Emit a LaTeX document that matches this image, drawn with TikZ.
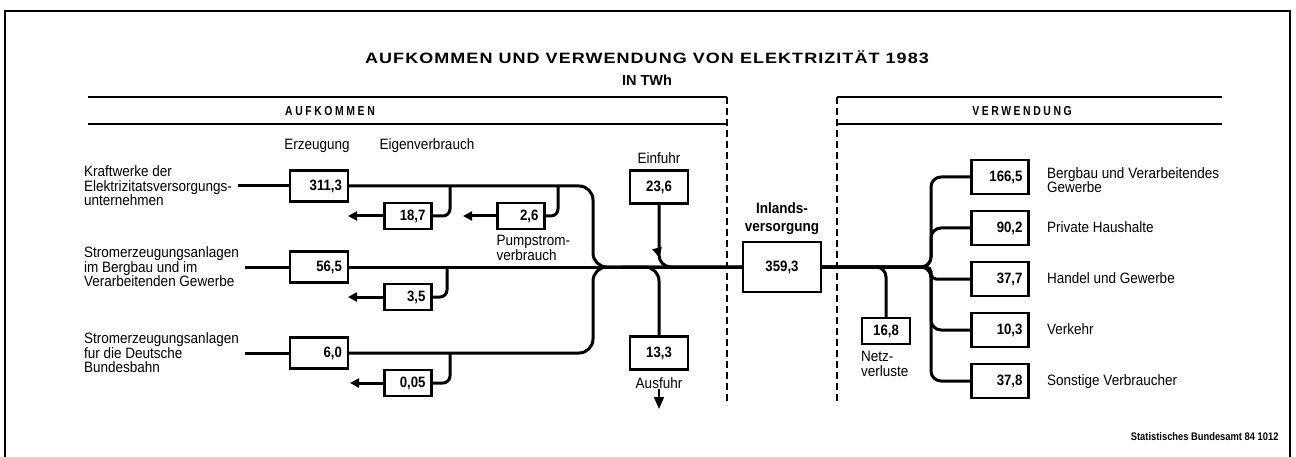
\documentclass[tikz,border=0pt]{standalone}
\usepackage{fontspec}
\setmainfont{Liberation Sans}
\newfontfamily\narrowfamily[FakeStretch=0.9]{Liberation Sans}
\newfontfamily\numfamily[FakeStretch=0.88]{Liberation Sans}
\newfontfamily\headfamily[LetterSpace=20,FakeStretch=0.8]{Liberation Sans}
\newfontfamily\titlefamily[LetterSpace=7,FakeStretch=1.2]{Liberation Sans}
\newfontfamily\quellfamily[FakeStretch=0.85]{Liberation Sans}
\usepackage{tikz}
\usetikzlibrary{arrows.meta,positioning,decorations.markings}
\newcommand{\lblfont}{\narrowfamily\fontsize{15}{14.5}\selectfont}
\newcommand{\numfont}{\numfamily\fontsize{15}{15}\selectfont\bfseries}
\newcommand{\titlefont}{\titlefamily\fontsize{15}{16}\selectfont\bfseries}
\newcommand{\unitfont}{\fontsize{14.5}{16}\selectfont\bfseries}
\newcommand{\headfont}{\headfamily\fontsize{13}{13}\selectfont\bfseries}
\newcommand{\inlfont}{\narrowfamily\fontsize{15}{18}\selectfont\bfseries}
\newcommand{\quellfont}{\quellfamily\fontsize{11}{12}\selectfont\bfseries}
\tikzset{
  strom/.style={line width=3pt},
  pfeil/.style={strom,-{Triangle[length=9pt,width=9pt]}},
  valbox/.style={rectangle,draw,line width=2.2pt,inner xsep=6pt,inner ysep=0pt,
    text width=46pt,align=right,minimum height=31pt,font=\numfont},
  evbox/.style={valbox,text width=35pt,minimum height=26pt},
  midbox/.style={rectangle,draw,line width=2.2pt,inner sep=0pt,
    minimum width=58pt,minimum height=33pt,font=\numfont},
  netzbox/.style={midbox,minimum width=48pt,minimum height=26pt},
  usebox/.style={valbox,text width=45pt,minimum height=34pt},
  lbl/.style={font=\lblfont,align=left,inner sep=0pt},
  head/.style={font=\headfont},
  trenn/.style={line width=1.3pt,dash pattern=on 7pt off 4pt},
  rahmen/.style={line width=1.4pt}
}
\begin{document}
\begin{tikzpicture}[x=1pt,y=-1pt]
\useasboundingbox (0,0) rectangle (1296,457);
\draw[rahmen] (5,457) -- (5,11) -- (1290,11) -- (1290,457);
\node[font=\titlefont] (titel) at (647,57) {AUFKOMMEN UND VERWENDUNG VON ELEKTRIZITÄT 1983};
\node[font=\unitfont] (einheit) at (647,80) {IN TWh};
\draw[rahmen] (88,97) -- (727,97) (88,124) -- (727,124);
\node[head] (aufk) at (330,111) {AUFKOMMEN};
\draw[rahmen] (837,97) -- (1222,97) (837,124) -- (1222,124);
\node[head] (verw) at (1022,111) {VERWENDUNG};
\draw[trenn] (727,97) -- (727,405);
\draw[trenn] (837,97) -- (837,405);

\node[lbl] (erzlbl) at (317,146) {Erzeugung};
\node[lbl] (evlbl) at (427,146) {Eigenverbrauch};
\node[lbl,anchor=west] (src1) at (84,186) {Kraftwerke der\\Elektrizitatsversorgungs-\\unternehmen};
\node[lbl,anchor=west] (src2) at (84,267) {Stromerzeugungsanlagen\\im Bergbau und im\\Verarbeitenden Gewerbe};
\node[lbl,anchor=west] (src3) at (84,353) {Stromerzeugungsanlagen\\fur die Deutsche\\Bundesbahn};

\node[valbox] (erz1) at (319,186) {311,3};
\node[valbox] (erz2) at (319,267) {56,5};
\node[valbox] (erz3) at (319,353) {6,0};
\node[evbox] (ev1) at (408,216) {18,7};
\node[evbox] (pump) at (521,216) {2,6};
\node[evbox] (ev2) at (408,297) {3,5};
\node[evbox] (ev3) at (408,383) {0,05};
\node[lbl,below right=5pt and 0pt of pump.south west] (pumplbl) {Pumpstrom-\\verbrauch};

\node[midbox] (ein) at (659,187) {23,6};
\node[lbl,above=6pt of ein] (einlbl) {Einfuhr};
\node[midbox] (aus) at (659,353) {13,3};
\node[lbl,below=7pt of aus] (auslbl) {Ausfuhr};
\coordinate (ausend) at (659,409);

\node[font=\inlfont,align=center,inner sep=0pt] (inllbl) at (782,219) {Inlands-\\versorgung};
\node[midbox,minimum width=78pt,minimum height=50pt] (inl) at (782,267) {359,3};
\node[netzbox] (netz) at (886,331) {16,8};
\node[lbl,below right=6pt and 0pt of netz.south west] (netzlbl) {Netz-\\verluste};

\node[usebox] (v1) at (1000,177) {166,5};
\node[usebox] (v2) at (1000,228) {90,2};
\node[usebox] (v3) at (1000,279) {37,7};
\node[usebox] (v4) at (1000,330) {10,3};
\node[usebox] (v5) at (1000,381) {37,8};
\node[lbl,anchor=west] (l1) at (1047,180) {Bergbau und Verarbeitendes\\Gewerbe};
\node[lbl,anchor=west] (l2) at (1047,227) {Private Haushalte};
\node[lbl,anchor=west] (l3) at (1047,278) {Handel und Gewerbe};
\node[lbl,anchor=west] (l4) at (1047,329) {Verkehr};
\node[lbl,anchor=west] (l5) at (1047,382) {Sonstige Verbraucher};
\node[font=\quellfont,anchor=east] (quelle) at (1282,437) {Statistisches Bundesamt 84 1012};

\draw[strom] ([xshift=6pt]src1.east) -- (erz1.west);
\draw[strom] ([xshift=6pt]src2.east) -- (erz2.west);
\draw[strom] ([xshift=6pt]src3.east) -- (erz3.west);

\coordinate (j) at (593,267);
\draw[strom,rounded corners=14pt] (erz1.east) -| (j) -- (inl.west);
\draw[strom] (erz2.east) -- (inl.west);
\draw[strom,rounded corners=14pt] (erz3.east) -| (j) -- (inl.west);

\coordinate (b1) at (450,186);
\coordinate (bp) at (558,186);
\coordinate (b2) at (447,267);
\coordinate (b3) at (450,353);
\draw[strom,rounded corners=7pt] (b1) |- (ev1.east);
\draw[strom,rounded corners=7pt] (bp) |- (pump.east);
\draw[strom,rounded corners=7pt] (b2) |- (ev2.east);
\draw[strom,rounded corners=7pt] (b3) |- (ev3.east);
\coordinate (t1) at (348,216);
\coordinate (tp) at (463,216);
\coordinate (t2) at (348,297);
\coordinate (t3) at (350,383);
\draw[pfeil] (ev1.west) -- (t1);
\draw[pfeil] (pump.west) -- (tp);
\draw[pfeil] (ev2.west) -- (t2);
\draw[pfeil] (ev3.west) -- (t3);

\draw[strom,rounded corners=12pt,postaction={decorate},
  decoration={markings,mark=at position 0.38 with {\arrow{Triangle[length=10pt,width=9pt]}}}]
  (ein.south) |- (inl.west);
\coordinate (aj) at (622,267);
\draw[strom,rounded corners=14pt] (aj) -| (aus.north);
\draw[line width=1.5pt,-{Triangle[length=12pt,width=10pt]}] (auslbl.south) -- (ausend);

\draw[strom,rounded corners=10pt] (inl.east) -| (netz.north);
\coordinate (fj) at (931,267);
\foreach \n/\r in {v1/10pt,v2/10pt,v3/5pt,v4/10pt,v5/10pt}
  \draw[strom,rounded corners=\r] (inl.east) -- (fj) |- (\n.west);
\end{tikzpicture}
\end{document}
